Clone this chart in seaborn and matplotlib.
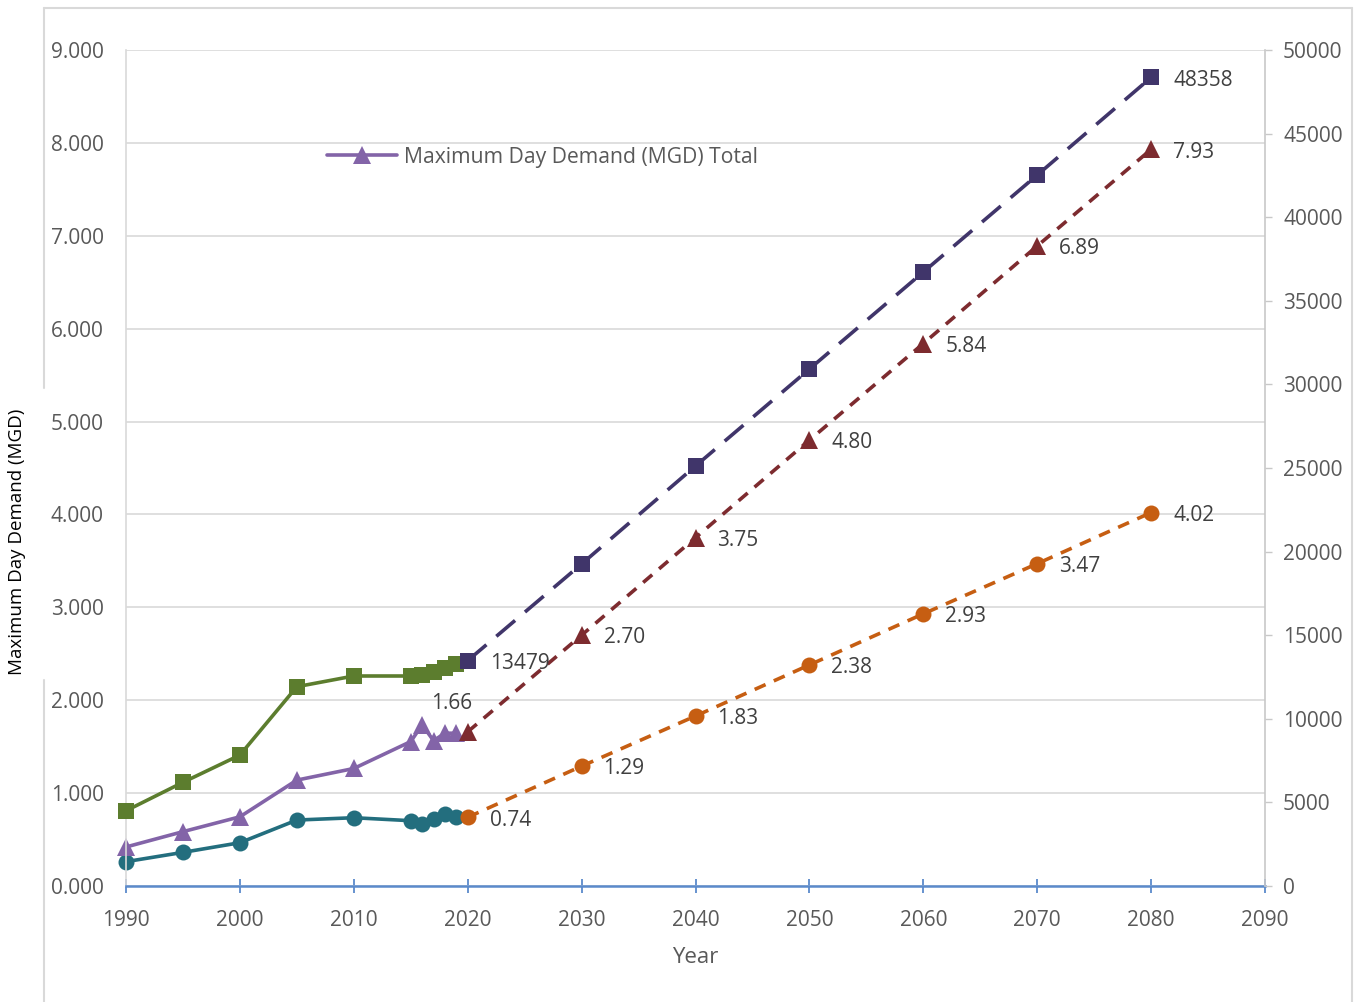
import matplotlib
matplotlib.use("Agg")
import matplotlib.pyplot as plt
from matplotlib.lines import Line2D
import seaborn as sns
import pandas as pd

# Historical records
hist_years = [1990, 1995, 2000, 2005, 2010, 2015, 2016, 2017, 2018, 2019]
hist_population = [4500, 6200, 7830, 11920, 12560, 12560, 12620, 12780, 13060, 13260]
hist_total_mgd = [0.42, 0.585, 0.745, 1.14, 1.265, 1.555, 1.735, 1.565, 1.645, 1.645]
hist_avg_mgd = [0.262, 0.362, 0.466, 0.71, 0.735, 0.703, 0.667, 0.721, 0.775, 0.74]

# Projections
proj_years = [2020, 2030, 2040, 2050, 2060, 2070, 2080]
proj_population = [13479, 19260, 25120, 30920, 36720, 42520, 48358]
proj_total_mgd = [1.66, 2.70, 3.75, 4.80, 5.84, 6.89, 7.93]
proj_avg_mgd = [0.74, 1.29, 1.83, 2.38, 2.93, 3.47, 4.02]

legend_label = "Maximum Day Demand (MGD) Total"
x_label = "Year"
y_label = "Maximum Day Demand (MGD)"

GREEN = "#5C7D2E"
PURPLE = "#8364A8"
TEAL = "#236E7E"
NAVY = "#40356A"
DARKRED = "#7D2B2F"
ORANGE = "#C65E12"
TEXT = "#595959"
LABEL = "#404040"
GRID = "#D9D9D9"
AXBLUE = "#5B8ACB"

sns.set_style("white")
plt.rcParams["font.family"] = ["Open Sans", "DejaVu Sans"]

fig = plt.figure(figsize=(13.64, 10.02), dpi=100)
ax = fig.add_axes([126 / 1364, 1 - 886 / 1002, (1265 - 126) / 1364, (886 - 50) / 1002])
ax2 = ax.twinx()

hist = pd.DataFrame({"year": hist_years, "pop": hist_population,
                     "total": hist_total_mgd, "avg": hist_avg_mgd})
proj = pd.DataFrame({"year": proj_years, "pop": proj_population,
                     "total": proj_total_mgd, "avg": proj_avg_mgd})

common = dict(markeredgewidth=0, clip_on=False)
TRI = 13.5

# Demand series on the left axis
sns.lineplot(data=hist, x="year", y="avg", ax=ax, color=TEAL, marker="o",
             markersize=11.5, markeredgecolor=TEAL, linewidth=2.6, **common)
sns.lineplot(data=hist, x="year", y="total", ax=ax, color=PURPLE, marker="^",
             markersize=TRI, markeredgecolor=PURPLE, linewidth=2.6, **common)
sns.lineplot(data=proj, x="year", y="avg", ax=ax, color=ORANGE, marker="o",
             markersize=11.5, markeredgecolor=ORANGE, linewidth=2.6,
             linestyle=(0, (3.3, 2.5)), **common)
sns.lineplot(data=proj, x="year", y="total", ax=ax, color=DARKRED, marker="^",
             markersize=TRI, markeredgecolor=DARKRED, linewidth=2.6,
             linestyle=(0, (3.3, 2.5)), **common)

# Population series on the right axis
sns.lineplot(data=hist, x="year", y="pop", ax=ax2, color=GREEN, marker="s",
             markersize=11.5, markeredgecolor=GREEN, linewidth=2.6, **common)
sns.lineplot(data=proj, x="year", y="pop", ax=ax2, color=NAVY, marker="s",
             markersize=11.5, markeredgecolor=NAVY, linewidth=2.6,
             linestyle=(0, (6.8, 3.6)), **common)

# Axis ranges and ticks
ax.set_xlim(1990, 2090)
ax.set_ylim(0, 9)
ax2.set_ylim(0, 50000)
ax.set_xticks(range(1990, 2091, 10))
ax.set_yticks(range(0, 10))
ax2.set_yticks(range(0, 50001, 5000))
ax.set_yticklabels([f"{v:.3f}" for v in range(0, 10)])
ax2.set_yticklabels([f"{v}" for v in range(0, 50001, 5000)])

ax.grid(axis="y", color=GRID, linewidth=1.2)
ax.grid(axis="x", visible=False)
ax.set_axisbelow(True)

for s in ["top", "right"]:
    ax.spines[s].set_visible(False)
ax.spines["left"].set_color(GRID)
ax.spines["left"].set_linewidth(1.2)
ax.spines["bottom"].set_color(AXBLUE)
ax.spines["bottom"].set_linewidth(1.8)
for s in ["top", "left", "bottom"]:
    ax2.spines[s].set_visible(False)
ax2.spines["right"].set_color("#C8C8C8")
ax2.spines["right"].set_linewidth(1.2)

ax.tick_params(axis="x", bottom=True, direction="inout", length=10, width=1.3,
               color=AXBLUE, labelsize=15, labelcolor=TEXT, pad=12)
ax.tick_params(axis="y", left=False, length=0, labelsize=15, labelcolor=TEXT, pad=16)
ax2.tick_params(axis="y", right=True, direction="out", length=5, width=1,
                color="#C8C8C8", labelsize=15, labelcolor=TEXT, pad=8)

ax.set_xlabel(x_label, fontsize=16, color=TEXT, labelpad=12)
ax.set_ylabel("")
ax2.set_ylabel("")
fig.text(17 / 1364, 1 - 542 / 1002, y_label, rotation=90, ha="center",
         va="center", fontsize=13.5, color="black")

# Value labels
off = 15.8
dy = -2
for yr, v in zip(proj_years[1:], proj_total_mgd[1:]):
    ax.annotate(f"{v:.2f}", (yr, v), xytext=(off, dy), textcoords="offset points",
                ha="left", va="center", fontsize=15, color=LABEL)
ax.annotate(f"{proj_total_mgd[0]:.2f}", (proj_years[0], proj_total_mgd[0]),
            xytext=(-11.5, 20.5), textcoords="offset points",
            ha="center", va="center", fontsize=15, color=LABEL)
for yr, v in zip(proj_years, proj_avg_mgd):
    ax.annotate(f"{v:.2f}", (yr, v), xytext=(off, dy), textcoords="offset points",
                ha="left", va="center", fontsize=15, color=LABEL)
for i in (0, -1):
    ax2.annotate(f"{proj_population[i]}", (proj_years[i], proj_population[i]),
                 xytext=(off, dy), textcoords="offset points",
                 ha="left", va="center", fontsize=15, color=LABEL)

# Legend with the total demand entry only
handle = Line2D([], [], color=PURPLE, marker="^", markersize=TRI,
                markeredgewidth=0, linewidth=2.6)
leg = ax.legend([handle], [legend_label], loc="center left",
                bbox_to_anchor=((327 - 126) / 1139, (886 - 157) / 836),
                frameon=False, fontsize=15.2, handlelength=3.3,
                handletextpad=0.35, borderpad=0, borderaxespad=0)
for t in leg.get_texts():
    t.set_color(TEXT)

# Outer chart frame
fw, fh = 1364, 1002
frame_kw = dict(color=GRID, linewidth=1.5, transform=fig.transFigure)
fig.add_artist(Line2D([44 / fw, 1352 / fw], [1 - 8 / fh, 1 - 8 / fh], **frame_kw))
fig.add_artist(Line2D([1352 / fw, 1352 / fw], [1 - 8 / fh, 0], **frame_kw))
fig.add_artist(Line2D([44 / fw, 44 / fw], [1 - 8 / fh, 1 - 388 / fh], **frame_kw))
fig.add_artist(Line2D([44 / fw, 44 / fw], [1 - 680 / fh, 0], **frame_kw))

fig.savefig("out.png", dpi=100)
